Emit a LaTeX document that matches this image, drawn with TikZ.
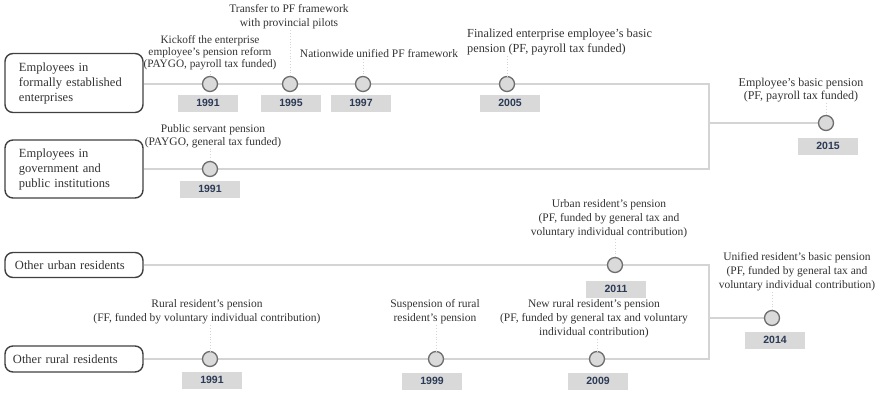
\documentclass[tikz,border=0pt]{standalone}
\usepackage{fontspec}
\setmainfont{Liberation Serif}
\newfontfamily\yearfont{Liberation Sans}
\definecolor{tline}{HTML}{D4D4D4}
\definecolor{cstroke}{HTML}{6E6E6E}
\definecolor{cfill}{HTML}{DADADA}
\definecolor{yfill}{HTML}{D9D9D9}
\definecolor{ytext}{HTML}{2B3A55}
\definecolor{ltext}{HTML}{333333}
\definecolor{bstroke}{HTML}{404040}
\begin{document}
\begin{tikzpicture}[x=1pt,y=-1pt,
  tl/.style={draw=tline,line width=1.3pt},
  conn/.style={draw=tline,line width=0.8pt,dotted},
  dot/.style={circle,draw=cstroke,fill=cfill,line width=1.3pt,minimum size=15pt,inner sep=0pt},
  yr/.style={fill=yfill,minimum width=60pt,minimum height=17pt,inner sep=0pt,text=ytext,font=\yearfont\bfseries\fontsize{10.5}{11}\selectfont},
  lbl/.style={align=center,text=ltext,inner sep=1pt,font=\fontsize{11.5}{14}\selectfont},
  grp/.style={draw=bstroke,line width=1.4pt,rounded corners=8pt,minimum width=138pt,align=left,text=ltext,inner xsep=0pt,inner ysep=0pt,font=\fontsize{12.5}{15}\selectfont}
]
\useasboundingbox (0,0) rectangle (879,394);
% group boxes
\node[grp,minimum height=59pt,text width=118pt] (g1) at (74,83) {\hspace*{4pt}Employees in\\\hspace*{4pt}formally established\\\hspace*{4pt}enterprises};
\node[grp,minimum height=58pt,text width=118pt] (g2) at (74,169) {\hspace*{4pt}Employees in\\\hspace*{4pt}government and\\\hspace*{4pt}public institutions};
\node[grp,minimum height=25pt,text width=118pt] (g3) at (74,265) {\hspace*{0pt}Other urban residents};
\node[grp,minimum height=26pt,text width=118pt] (g4) at (74,359) {\hspace*{-2pt}Other rural residents};
% bracket coordinates
\coordinate (b1) at (709,84);
\coordinate (b2) at (709,169);
\coordinate (m12) at (709,123);
\coordinate (b3) at (709,265);
\coordinate (b4) at (709,359);
\coordinate (m34) at (709,318);
% circle positions
\path (210,84) coordinate (p91a) (290,84) coordinate (p95) (363,84) coordinate (p97) (507,84) coordinate (p05)
      (210,169) coordinate (p91b) (826,123) coordinate (p15)
      (615,265) coordinate (p11) (772,318) coordinate (p14)
      (210,359) coordinate (p91c) (436,359) coordinate (p99) (597,359) coordinate (p09);
% timelines
\draw[tl] (g1.east |- b1) -- (b1) -- (b2) -- (g2.east |- b2);
\draw[tl] (m12) -- (p15);
\draw[tl] (g3.east |- b3) -- (b3) -- (b4) -- (g4.east |- b4);
\draw[tl] (m34) -- (p14);
% circles
\foreach \n in {91a,95,97,05,91b,15,11,14,91c,99,09}{\node[dot] (c\n) at (p\n) {};}
% year boxes
\node[yr] (y91a) at (208,103) {1991};
\node[yr] (y95) at (291,103) {1995};
\node[yr] (y97) at (361,103) {1997};
\node[yr] (y05) at (510,103) {2005};
\node[yr] (y91b) at (210,189) {1991};
\node[yr] (y15) at (828,146) {2015};
\node[yr] (y11) at (616,289) {2011};
\node[yr] (y14) at (775,340) {2014};
\node[yr] (y91c) at (212,380) {1991};
\node[yr] (y99) at (432,381) {1999};
\node[yr] (y09) at (598,381) {2009};
% labels
\node[lbl,font=\fontsize{11.3}{11.8}\selectfont] (l91a) at (210,53) {Kickoff the enterprise\\employee's pension reform\\(PAYGO, payroll tax funded)};
\node[lbl] (l95) at (289,17) {Transfer to PF framework\\with provincial pilots};
\node[lbl] (l97) at (379,54) {Nationwide unified PF framework};
\node[lbl,align=left,anchor=west,font=\fontsize{12.3}{14.5}\selectfont] (l05) at (466,42) {Finalized enterprise employee's basic\\pension (PF, payroll tax funded)};
\node[lbl,font=\fontsize{11.5}{12.5}\selectfont] (l91b) at (213,136) {Public servant pension\\(PAYGO, general tax funded)};
\node[lbl,font=\fontsize{12}{13}\selectfont] (l15) at (801,90) {Employee's basic pension\\(PF, payroll tax funded)};
\node[lbl] (l11) at (609,219) {Urban resident's pension\\(PF, funded by general tax and\\voluntary individual contribution)};
\node[lbl] (l14) at (797,272) {Unified resident's basic pension\\(PF, funded by general tax and\\voluntary individual contribution)};
\node[lbl] (l91c) at (207,312) {Rural resident's pension\\(FF, funded by voluntary individual contribution)};
\node[lbl] (l99) at (435,312) {Suspension of rural\\resident's pension};
\node[lbl] (l09) at (594,319) {New rural resident's pension\\(PF, funded by general tax and voluntary\\individual contribution)};
% dotted connectors
\foreach \n in {91a,95,97,05,91b,15,11,14,91c,99,09}{\draw[conn] (c\n |- l\n.south) -- (c\n.north);}
\end{tikzpicture}
\end{document}
